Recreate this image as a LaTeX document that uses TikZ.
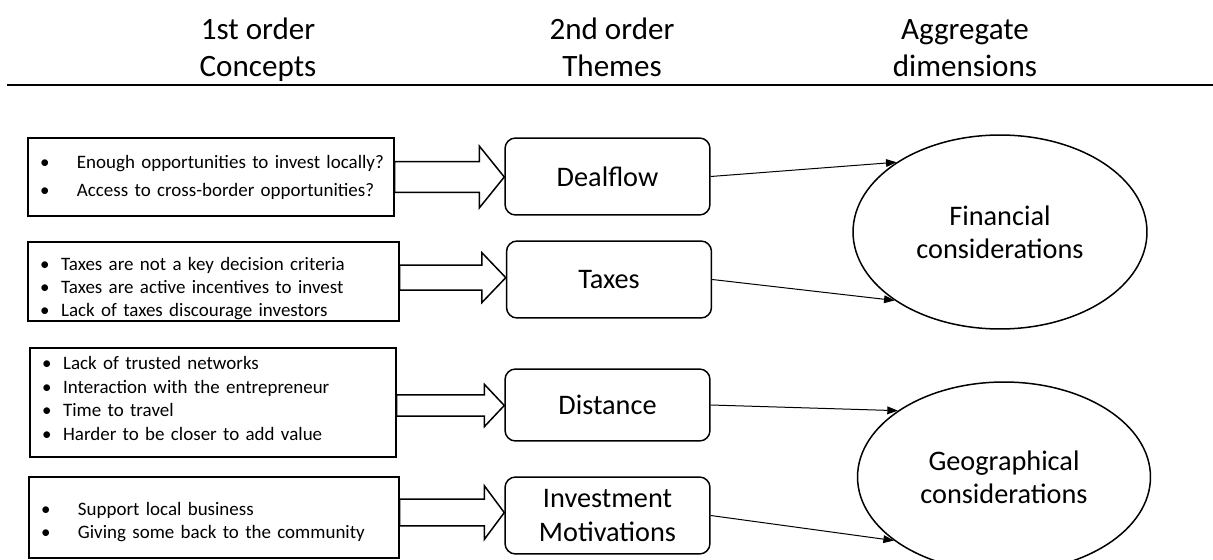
\documentclass[tikz,border=0pt]{standalone}
\usepackage{fontspec}
\setmainfont{Carlito}
\usetikzlibrary{shapes.geometric,arrows.meta,calc}

\newcommand{\itm}[2][12pt]{\makebox[#1][l]{\textbullet}\mbox{#2}}

\begin{document}
\begin{tikzpicture}[x=0.02cm, y=-0.02cm,
	head/.style={align=center, font=\fontsize{17.7}{21.5}\selectfont},
	concept/.style 2 args={draw, rectangle, line width=0.3mm, inner xsep=0.24cm, text width=#1, minimum height=#2, align=left, font=\fontsize{10.8}{13.3}\selectfont},
	theme/.style={draw, rectangle, rounded corners=6pt, line width=0.3mm, minimum width=4.1cm, minimum height=1.54cm, align=center, font=\fontsize{16.1}{19.3}\selectfont},
	dim/.style={draw, ellipse, line width=0.3mm, inner sep=0pt, align=center, font=\fontsize{16.1}{18.7}\selectfont},
	fat/.style 2 args={line width=0.3mm, to path={let \p1=(\tikztostart), \p2=(\tikztotarget) in (\x1,\y1+#1) -- (\x2-#2,\y1+#1) -- (\x2-#2,\y1+2*#1) -- (\x2,\y1) -- (\x2-#2,\y1-2*#1) -- (\x2-#2,\y1-#1) -- (\x1,\y1-#1) -- cycle}},
	link/.style={-{Triangle[length=6pt,width=4.4pt]}, line width=0.2mm}]
	\useasboundingbox (0,0) rectangle (1213,560);

	\draw (258,50.5) node (h1) [head] {\strut 1st order\\Concepts\strut};
	\draw (612,50.5) node (h2) [head] {\strut 2nd order\\Themes\strut};
	\draw (965,50.5) node (h3) [head] {\strut Aggregate\\dimensions\strut};
	\draw[line width=0.4mm] (7,85) -- (1213,85);

	\draw (211,177) node (c1) [concept={6.84cm}{1.56cm}, font=\fontsize{10.8}{15.9}\selectfont] {\itm[21pt]{Enough opportunities to invest locally?}\\ \itm[21pt]{Access to cross-border opportunities?}};
	\draw (213.5,281.5) node (c2) [concept={6.94cm}{1.58cm}, inner ysep=0pt] {\rule{0pt}{15.5pt}\itm{Taxes are not a key decision criteria}\\ \itm{Taxes are active incentives to invest}\\ \itm{Lack of taxes discourage investors}};
	\draw (213,402.5) node (c3) [concept={6.84cm}{2.18cm}] {\itm{Lack of trusted networks}\\ \itm{Interaction with the entrepreneur}\\ \itm{Time to travel}\\ \itm{Harder to be closer to add value}\rule[-4.6pt]{0pt}{4.6pt}};
	\draw (214,517.5) node (c4) [concept={6.92cm}{1.62cm}] {\rule{0pt}{12.5pt}\itm[21pt]{Support local business}\\ \itm[21pt]{Giving some back to the community}};

	\draw (607.5,176.5) node (deal) [theme] {Dealflow};
	\draw (609,279.5) node (tax) [theme] {Taxes};
	\draw (607.5,405) node (dist) [theme, minimum height=1.44cm] {Distance};
	\draw (607.5,515.5) node (motiv) [theme] {Investment\\Motivations};

	\draw (1000,232) node (fin) [dim, minimum width=5.88cm, minimum height=3.88cm] {Financial\\considerations};
	\draw (1004,477) node (geo) [dim, minimum width=5.86cm, minimum height=3.8cm] {Geographical\\considerations};

	\draw[fat={8.8pt}{14.2pt}] (c1.east) to (deal.west);
	\draw[fat={7.1pt}{13.6pt}] ([yshift=2.2pt]c2.east) to (tax.west);
	\draw[fat={6pt}{11.3pt}] ([yshift=-1.7pt]c3.east) to (dist.west);
	\draw[fat={7.6pt}{11.3pt}] ([yshift=2.8pt]c4.east) to (motiv.west);

	\draw[link] (deal.east) -- (fin.146);
	\draw[link] (tax.east) -- (fin.213);
	\draw[link] (dist.east) -- (geo.148);
	\draw[link] (motiv.east) -- (geo.210);
\end{tikzpicture}
\end{document}
